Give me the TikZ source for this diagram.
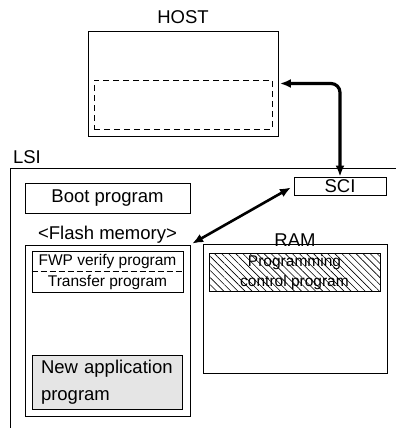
\documentclass[tikz,border=0pt]{standalone}
\usepackage{fontspec}
\setmainfont{Liberation Sans}
\usetikzlibrary{arrows.meta,positioning,patterns.meta}

\begin{document}
\begin{tikzpicture}[x=1pt, y=-1pt, every node/.style={font=\fontsize{18.5}{27}\selectfont}]
\tikzset{blk/.style={draw, line width=0.8pt, inner sep=0pt},
  small/.style={font=\fontsize{15.5}{20}\selectfont},
  link/.style={{Latex[length=11pt,width=9pt]}-{Latex[length=11pt,width=9pt]}, line width=3.2pt}}
\useasboundingbox (0,0) rectangle (396,428);
% host side
\node[blk, minimum width=190pt, minimum height=105pt] (host) at (183,83.5) {};
\node (hostlbl) at (183,17) {HOST};
\node[blk, dash pattern=on 6pt off 4pt, minimum width=178pt, minimum height=49pt] (hostbuf) at (183,104.5) {};
% LSI frame
\node (lsi) at (27,157) {LSI};
\draw[line width=0.8pt] (10,428) -- (10,168) -- (396,168);
\node[blk, minimum width=165pt, minimum height=30pt] (boot) at (107.5,198) {Boot program};
\node[blk, minimum width=92pt, minimum height=18pt] (sci) at (340,186) {SCI};
% flash memory
\node (flashlbl) at (107.5,235) {<Flash memory>};
\node[blk, minimum width=165pt, minimum height=171pt] (flash) at (107.5,330.5) {};
\node[blk, minimum width=151pt, minimum height=41pt] (fwpbox) at (107.5,271.5) {};
\node[small] (fwp) at (107.5,261) {FWP verify program};
\node[small] (xfer) at (107.5,282) {Transfer program};
\draw[line width=0.8pt, dash pattern=on 6pt off 3pt] (fwpbox.west |- 0,271) -- (fwpbox.east |- 0,271);
\node[blk, fill=gray!20, minimum width=150pt, minimum height=54pt, text width=132pt, inner xsep=9pt, align=left] (newapp) at (107,382) {New application\\program};
% RAM
\node (ramlbl) at (295,240) {RAM};
\node[blk, minimum width=184pt, minimum height=129pt] (ram) at (295,308.5) {};
\node[blk, pattern={Lines[angle=-45, distance=5pt, line width=0.6pt]}, minimum width=171pt, minimum height=38pt] (pcp) at (294.5,272) {};
\node[small, align=center] (pcptxt) at (pcp) {Programming\\control program};
% connections
\draw[link, rounded corners=9pt, shorten >=1.5pt] (sci.north) |- (host.east);
\draw[link, line width=2.6pt, shorten <=3pt, shorten >=2pt] (sci.west) -- (flash.north east);
\end{tikzpicture}
\end{document}
